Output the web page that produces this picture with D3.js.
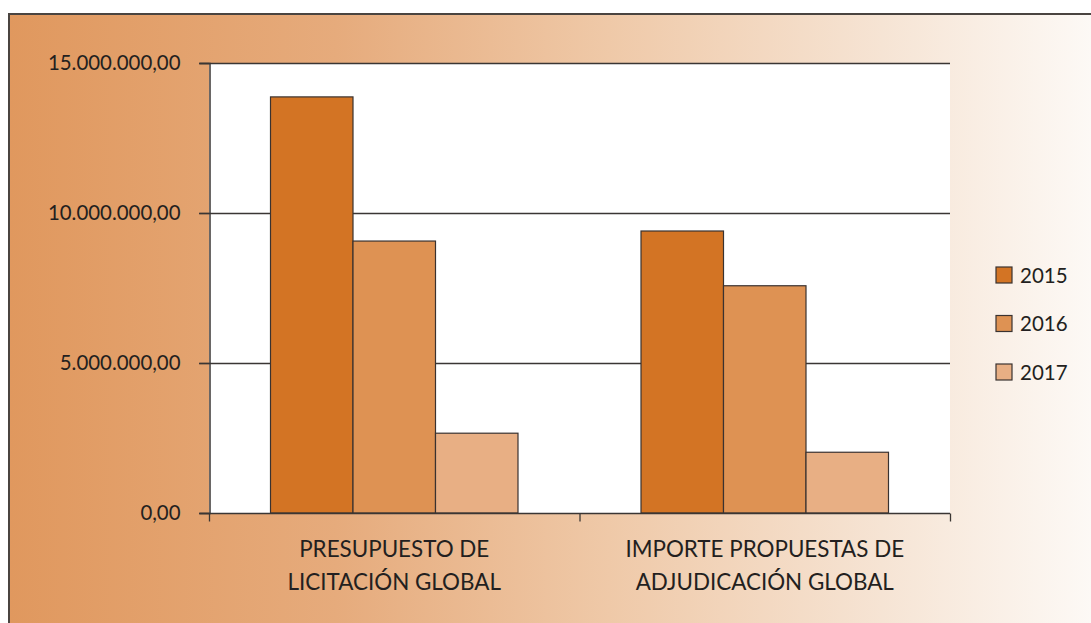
<!DOCTYPE html>
<html>
<head>
<meta charset="utf-8">
<script src="https://cdn.jsdelivr.net/npm/d3@7"></script>
<style>
  body { margin: 0; background: #fff; overflow: hidden; }
  text { font-family: "Lato", "Open Sans", sans-serif; fill: #231f20; }
</style>
</head>
<body>
<div id="chart"></div>
<script>
const WIDTH = 1091;
const HEIGHT = 623;

// data
const categories = ["PRESUPUESTO DE|LICITACIÓN GLOBAL", "IMPORTE PROPUESTAS DE|ADJUDICACIÓN GLOBAL"];
const years = ["2015", "2016", "2017"];
const values2015 = [13870000, 9400000];
const values2016 = [9065000, 7575000];
const values2017 = [2660000, 2025000];
const yTicks = [0, 5000000, 10000000, 15000000];
const yTickLabels = ["0,00", "5.000.000,00", "10.000.000,00", "15.000.000,00"];
const colors = ["#d37424", "#de9253", "#e8af84"];

const series = [values2015, values2016, values2017];

const plot = { left: 209, right: 950, top: 63, bottom: 513 };

var svg = d3.select("#chart")
  .append("svg")
  .attr("width", WIDTH)
  .attr("height", HEIGHT);

// background gradient, orange to almost white
var grad = svg.append("defs").append("linearGradient")
  .attr("id", "bg")
  .attr("x1", "0%").attr("x2", "100%").attr("y1", "0%").attr("y2", "0%");
grad.append("stop").attr("offset", "0%").attr("stop-color", "#e0985e");
grad.append("stop").attr("offset", "30%").attr("stop-color", "#e6ab7c");
grad.append("stop").attr("offset", "55%").attr("stop-color", "#efc9a8");
grad.append("stop").attr("offset", "80%").attr("stop-color", "#f6e4d4");
grad.append("stop").attr("offset", "100%").attr("stop-color", "#fdfaf7");

svg.append("rect")
  .attr("x", 9).attr("y", 14)
  .attr("width", WIDTH).attr("height", HEIGHT)
  .attr("fill", "url(#bg)");

// frame (left and top only, the rest is cut off)
svg.append("path")
  .attr("d", `M9,${HEIGHT} V14 H${WIDTH}`)
  .attr("fill", "none")
  .attr("stroke", "#4a4440")
  .attr("stroke-width", 2);

// plot area
svg.append("rect")
  .attr("x", plot.left).attr("y", plot.top)
  .attr("width", plot.right - plot.left).attr("height", plot.bottom - plot.top)
  .attr("fill", "#fff");

var y = d3.scaleLinear()
  .domain([0, 15000000])
  .range([plot.bottom, plot.top]);

var x0 = d3.scaleBand()
  .domain(categories)
  .range([plot.left, plot.right])
  .paddingInner(0.332)
  .paddingOuter(0.166);

var x1 = d3.scaleBand()
  .domain(years)
  .range([0, x0.bandwidth()]);

// gridlines
svg.append("g")
  .selectAll("line")
  .data(yTicks.slice(1))
  .join("line")
    .attr("x1", plot.left - 10)
    .attr("x2", plot.right)
    .attr("y1", d => Math.round(y(d)) + 0.5)
    .attr("y2", d => Math.round(y(d)) + 0.5)
    .attr("stroke", "#3a3634")
    .attr("stroke-width", 1.3);

// y axis
var yAxis = d3.axisLeft(y)
  .tickValues(yTicks)
  .tickSize(10)
  .tickPadding(19)
  .tickFormat((d, i) => yTickLabels[i]);

svg.append("g")
  .attr("transform", `translate(${plot.left + 0.5},0)`)
  .call(yAxis)
  .call(g => g.selectAll(".tick line").attr("stroke", "#3a3634").attr("stroke-width", 1.3))
  .call(g => g.select(".domain").attr("stroke", "#3a3634").attr("stroke-width", 1.5))
  .call(g => g.selectAll(".tick text").attr("font-size", 20.4).attr("fill", "#231f20").style("font-family", "Lato, sans-serif"));

// bars
var groups = svg.append("g")
  .selectAll("g")
  .data(categories)
  .join("g")
    .attr("transform", d => `translate(${x0(d)},0)`);

groups.selectAll("rect")
  .data((d, i) => years.map((yr, j) => ({ year: yr, value: series[j][i], color: colors[j] })))
  .join("rect")
    .attr("x", d => x1(d.year))
    .attr("y", d => y(d.value))
    .attr("width", x1.bandwidth())
    .attr("height", d => y(0) - y(d.value))
    .attr("fill", d => d.color)
    .attr("stroke", "#3a3230")
    .attr("stroke-width", 1.2);

// x axis: ticks at category boundaries
var xAxisScale = d3.scaleLinear().domain([0, 2]).range([plot.left, plot.right]);
svg.append("g")
  .attr("transform", `translate(0,${plot.bottom + 0.5})`)
  .call(d3.axisBottom(xAxisScale).tickValues([0, 1, 2]).tickSize(8).tickFormat(""))
  .call(g => g.select(".domain").attr("stroke", "#3a3634").attr("stroke-width", 1.5).attr("d", `M${plot.left - 10},0H${plot.right}`))
  .call(g => g.selectAll(".tick line").attr("stroke", "#3a3634").attr("stroke-width", 1.3));

// category labels (two lines)
svg.append("g")
  .selectAll("text")
  .data(categories)
  .join("text")
    .attr("x", d => x0(d) + x0.bandwidth() / 2)
    .attr("y", 557)
    .attr("text-anchor", "middle")
    .attr("font-size", 22.4)
    .selectAll("tspan")
    .data(d => d.split("|"))
    .join("tspan")
      .attr("x", function() { return d3.select(this.parentNode).attr("x"); })
      .attr("dy", (d, i) => i === 0 ? 0 : 33)
      .text(d => d);

// legend
var legend = svg.append("g")
  .attr("transform", "translate(996,267)");

var legendItems = legend.selectAll("g")
  .data(years)
  .join("g")
    .attr("transform", (d, i) => `translate(0,${i * 48.5})`);

legendItems.append("rect")
  .attr("width", 16)
  .attr("height", 16)
  .attr("fill", (d, i) => colors[i])
  .attr("stroke", "#3a3230")
  .attr("stroke-width", 1.2);

legendItems.append("text")
  .attr("x", 24)
  .attr("y", 15.5)
  .attr("font-size", 20.5)
  .text(d => d);
</script>
</body>
</html>
